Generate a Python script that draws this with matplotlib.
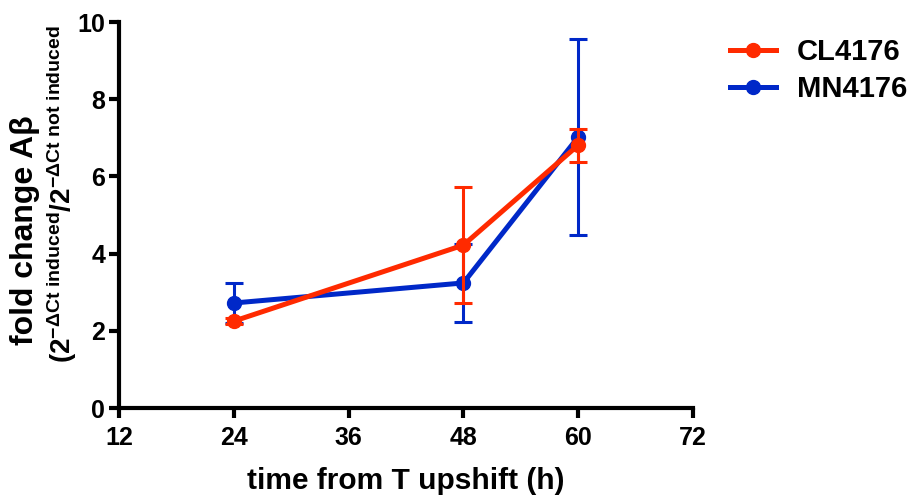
import numpy as np
import matplotlib
matplotlib.use("Agg")
from matplotlib import pyplot as plt
from matplotlib.lines import Line2D

plt.rcParams['font.family'] = ['Liberation Sans', 'DejaVu Sans']
plt.rcParams['font.weight'] = 'bold'
plt.rcParams['mathtext.fontset'] = 'custom'
plt.rcParams['mathtext.rm'] = 'Liberation Sans:bold'
plt.rcParams['mathtext.bf'] = 'Liberation Sans:bold'
plt.rcParams['mathtext.it'] = 'Liberation Sans:bold'
plt.rcParams['mathtext.sf'] = 'Liberation Sans:bold'

# data
hours = [24, 48, 60]
cl_mean = [2.25, 4.22, 6.81]
cl_err = [0.07, 1.50, 0.43]
mn_mean = [2.72, 3.24, 7.02]
mn_err = [0.53, 1.00, 2.54]

red = '#ff2a00'
blue = '#0028c8'

fig = plt.figure(figsize=(9.12, 4.99), dpi=100)
ax = fig.add_axes([119/912, 1 - 408/499, (693-119)/912, (408-22)/499])

ax.errorbar(hours, mn_mean, yerr=mn_err, color=blue, lw=3.6, marker='o', ms=10,
            elinewidth=2.2, capsize=6.5, capthick=2.2, zorder=3)
ax.errorbar(hours, cl_mean, yerr=cl_err, color=red, lw=3.6, marker='o', ms=10,
            elinewidth=2.2, capsize=6.5, capthick=2.2, zorder=4)

ax.set_xlim(12, 72)
ax.set_ylim(0, 10)
ax.set_xticks([12, 24, 36, 48, 60, 72])
ax.set_yticks([0, 2, 4, 6, 8, 10])
ax.spines['top'].set_visible(False)
ax.spines['right'].set_visible(False)
for s in ['left', 'bottom']:
    ax.spines[s].set_linewidth(3)
ax.spines['left'].set_zorder(5)
ax.tick_params(direction='out', length=7, width=3, labelsize=18, pad=3)
ax.tick_params(axis='x', pad=6)
for lab in ax.get_xticklabels() + ax.get_yticklabels():
    lab.set_fontweight('bold')

ax.set_xlabel('time from T upshift (h)', fontsize=21.5, fontweight='bold', labelpad=12)

fig.text(25/912, 1 - 230/499, 'fold change A\u03b2', rotation=90, fontsize=23,
         fontweight='bold', ha='center', va='center')
fig.text(62/912, 1 - 194/499,
         r'$(2^{-\Delta Ct\ induced}/2^{-\Delta Ct\ not\ induced}$',
         rotation=90, fontsize=20, ha='center', va='center')

handles = [Line2D([], [], color=red, lw=3.6, marker='o', ms=10),
           Line2D([], [], color=blue, lw=3.6, marker='o', ms=10)]
fig.legend(handles, ['CL4176', 'MN4176'], loc='upper left',
           bbox_to_anchor=(730/912, 1 - 38/499), frameon=False,
           prop={'size': 21, 'weight': 'bold'}, handlelength=1.58,
           handletextpad=0.72, labelspacing=0.32, borderpad=0, borderaxespad=0)

fig.savefig('out.png', dpi=100)
